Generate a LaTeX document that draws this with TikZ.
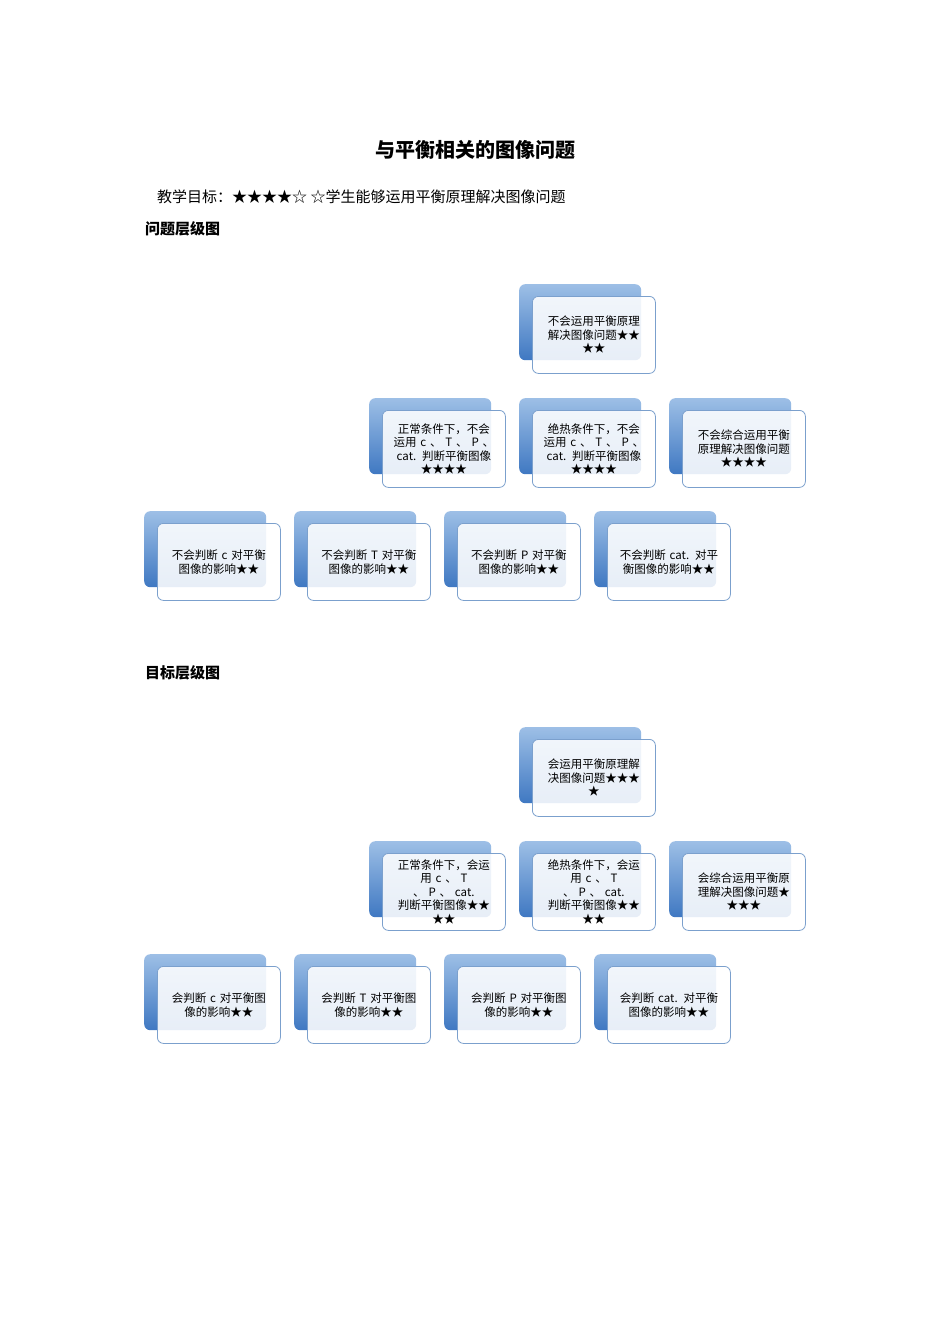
\documentclass[tikz,border=0pt]{standalone}
\usepackage{fontspec}
\setmainfont{Noto Sans CJK SC}
\usetikzlibrary{backgrounds}
\definecolor{lnc}{HTML}{7BA0CD}
\definecolor{bk1}{HTML}{9DBFE6}
\definecolor{bk2}{HTML}{3F78C2}
\tikzset{
 backbox/.style={rounded corners=6pt, top color=bk1, bottom color=bk2, draw=none, minimum width=122pt, minimum height=76pt, anchor=north west, inner sep=0pt},
 frontbox/.style={rounded corners=6pt, fill=white, fill opacity=0.88, text opacity=1, draw=lnc, line width=0.8pt, minimum width=123pt, minimum height=77pt, anchor=north west, text width=112pt, align=center, inner sep=0pt, font=\fontsize{11.5}{13.5}\selectfont},
 conn/.style={draw=lnc, line width=1pt},
 plain/.style={anchor=west, inner sep=0pt, font=\fontsize{15}{18}\selectfont}
}
\newcommand\bx[5]{%
 \node[backbox] (#1b) at (#2,#3) {};
 \node[frontbox] (#1) at (#2+13,#3+12) {#5};}
\newcommand\conns[1]{%
 \begin{pgfonlayer}{background}
 \draw[conn] (#1tb.south) -- ++(0,26) coordinate (#1h1) -| (#1ab.north);
 \draw[conn] (#1h1) -| (#1bb.north);
 \draw[conn] (#1h1) -| (#1cb.north);
 \draw[conn] (#1ab.south) -- ++(0,25) coordinate (#1h2) -| (#1db.north);
 \draw[conn] (#1h2) -| (#1eb.north);
 \draw[conn] (#1h2) -| (#1fb.north);
 \draw[conn] (#1h2) -| (#1gb.north);
 \end{pgfonlayer}}
\begin{document}
\begin{tikzpicture}[x=1pt,y=-1pt]
\useasboundingbox[fill=white] (0,0) rectangle (950,1344);
\node[font=\bfseries\fontsize{20}{24}\selectfont] (title) at (475,150) {与平衡相关的图像问题};
\node[plain] (goal) at (157,197) {教学目标：★★★★☆ ☆学生能够运用平衡原理解决图像问题};
\node[plain,font=\bfseries\fontsize{15}{18}\selectfont] (h1) at (145,229) {问题层级图};
\node[plain,font=\bfseries\fontsize{15}{18}\selectfont] (h2) at (145,673) {目标层级图};
% tree 1
\bx{pt}{519}{284}{}{不会运用平衡原理\\解决图像问题★★\\★★}
\bx{pa}{369}{398}{}{正常条件下，不会\\运用 c 、 T 、 P 、\\cat. 判断平衡图像\\★★★★}
\bx{pb}{519}{398}{}{绝热条件下，不会\\运用 c 、 T 、 P 、\\cat. 判断平衡图像\\★★★★}
\bx{pc}{669}{398}{}{不会综合运用平衡\\原理解决图像问题\\★★★★}
\bx{pd}{144}{511}{}{不会判断 c 对平衡\\图像的影响★★}
\bx{pe}{294}{511}{}{不会判断 T 对平衡\\图像的影响★★}
\bx{pf}{444}{511}{}{不会判断 P 对平衡\\图像的影响★★}
\bx{pg}{594}{511}{}{不会判断 cat. 对平\\衡图像的影响★★}
\conns{p}
% tree 2
\bx{qt}{519}{727}{}{会运用平衡原理解\\决图像问题★★★\\★}
\bx{qa}{369}{841}{}{正常条件下，会运\\用 c 、 T 、 P 、 cat.\\判断平衡图像★★\\★★}
\bx{qb}{519}{841}{}{绝热条件下，会运\\用 c 、 T 、 P 、 cat.\\判断平衡图像★★\\★★}
\bx{qc}{669}{841}{}{会综合运用平衡原\\理解决图像问题★\\★★★}
\bx{qd}{144}{954}{}{会判断 c 对平衡图\\像的影响★★}
\bx{qe}{294}{954}{}{会判断 T 对平衡图\\像的影响★★}
\bx{qf}{444}{954}{}{会判断 P 对平衡图\\像的影响★★}
\bx{qg}{594}{954}{}{会判断 cat. 对平衡\\图像的影响★★}
\conns{q}
\end{tikzpicture}
\end{document}
